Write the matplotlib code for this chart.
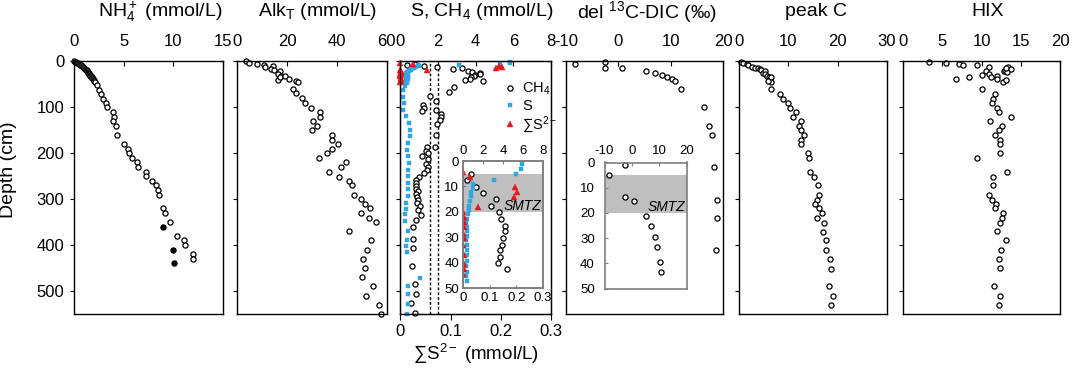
import matplotlib
matplotlib.use("Agg")
import matplotlib.pyplot as plt

plt.rcParams['font.family'] = ['Liberation Sans', 'DejaVu Sans']
plt.rcParams['mathtext.fontset'] = 'custom'
plt.rcParams['mathtext.rm'] = 'Liberation Sans'
plt.rcParams['mathtext.it'] = 'Liberation Sans:italic'
plt.rcParams['mathtext.bf'] = 'Liberation Sans:bold'

# ---------------- data ----------------
titles = ["NH$_4^+$ (mmol/L)", "Alk$_\\mathrm{T}$ (mmol/L)", "S, CH$_4$ (mmol/L)",
          "del $^{13}$C-DIC (‰)", "peak C", "HIX"]
depth_ticks = [0, 100, 200, 300, 400, 500]

nh4_open_x = [0.0, 0.1, 0.2, 0.3, 0.4, 0.5, 0.6, 0.7, 0.8, 0.9, 1.0, 1.1, 1.2, 1.3, 1.35, 1.4,
              1.45, 1.5, 1.55, 1.6, 1.65, 1.7, 1.8, 1.85, 1.9, 2.0, 2.05, 2.1,
              2.29, 2.52, 2.69, 2.93, 3.23, 3.36, 3.9, 4.07, 3.9, 4.24, 4.3, 5.05, 5.48, 5.58,
              5.82, 6.36, 6.49, 7.23, 7.3, 7.84, 8.31, 8.44, 8.58, 9.01, 9.22, 9.72, 10.43,
              11.1, 11.23, 11.97, 11.97]
nh4_open_d = [0, 1, 2, 3, 4, 6, 8, 9, 11, 12, 14, 16, 18, 19, 21, 23, 25, 26, 28, 30, 31, 33,
              35, 37, 38, 40, 42, 44,
              51, 62, 72, 81, 91, 100, 111, 121, 130, 140, 160, 180, 190, 200, 210, 220, 230,
              240, 250, 260, 270, 280, 290, 320, 330, 350, 380, 390, 400, 420, 431]
nh4_fill_x = [8.98, 9.96, 10.06]
nh4_fill_d = [361, 410, 440]

alk_x = [3.5, 4.7, 8.0, 10.8, 11.1, 14.5, 13.4, 14.9, 17.1, 16.5, 17.4, 16.5, 17.1, 19.1,
         20.9, 23.6, 24.5, 22.5, 23.6, 26.0, 27.3, 29.7, 33.2, 33.3, 30.5, 31.9, 30.0, 37.9,
         37.9, 40.3, 38.2, 36.2, 32.8, 43.8, 41.5, 36.8, 40.8, 44.7, 45.9, 47.0, 49.5, 51.4,
         53.3, 49.8, 53.0, 55.6, 45.0, 53.6, 52.0, 50.5, 51.3, 50.1, 54.6, 51.5, 57.0, 57.8]
alk_d = [0, 3, 5, 7, 12, 10, 17, 20, 22, 27, 32, 40, 35, 33, 38, 43, 46, 60, 70, 80, 90, 101,
         111, 121, 130, 140, 150, 160, 171, 180, 190, 200, 210, 220, 231, 241, 251, 260, 270,
         291, 300, 310, 320, 330, 341, 350, 370, 390, 410, 430, 450, 470, 490, 510, 530, 550]

ch4_x = [0.78, 0.34, 1.28, 1.96, 3.27, 2.8, 3.58, 3.82, 4.22, 4.22, 3.95, 3.92, 3.73, 3.7,
         3.45, 4.39, 2.85, 2.6, 1.56, 1.91, 1.22, 1.24, 1.89, 1.17, 2.14, 2.14, 2.12, 1.95,
         1.91, 1.42, 1.82, 1.35, 1.47, 1.17, 1.45, 1.35, 1.45, 1.4, 1.24, 1.0, 0.83, 0.81,
         0.81, 0.81, 0.92, 0.81, 0.88, 0.96, 0.9, 1.04, 0.92, 1.08, 0.83, 0.65, 0.65, 0.65,
         0.64, 0.78, 0.81, 0.55, 0.78]
ch4_d = [5.0, 7.5, 10.1, 12.6, 15.1, 17.5, 20.1, 22.7, 25.4, 27.6, 30.3, 32.9, 35.1, 37.6,
         40.1, 42.6, 57, 66, 76, 86, 96, 102, 106, 108, 115, 121, 127, 137, 161, 186, 187,
         195, 200, 207, 213, 223, 229, 236, 243, 252, 258, 265, 271, 278, 282, 289, 295, 302,
         309, 315, 324, 334, 346, 360, 386, 406, 445, 485, 507, 527, 547]

s_x = [5.85, 5.8, 5.29, 3.1, 0.95, 0.99, 0.82, 0.75, 0.65, 0.58, 0.58, 0.48, 0.38, 0.31,
       0.38, 0.36, 0.4, 0.31, 0.36, 0.4, 0.42, 0.42, 0.31, 0.36, 0.31, 0.36,
       0.23, 0.12, 0.16, 0.21, 0.16, 0.3, 0.44, 0.5, 0.51, 0.42, 0.34, 0.39, 0.44, 0.39,
       0.42, 0.39, 0.42, 0.39, 0.32, 0.28, 0.25, 0.25, 0.39, 0.34, 0.3, 0.34, 1.06, 0.39,
       0.42, 0.42, 0.34]
s_d = [1, 3, 5.0, 7.3, 9.0, 10.6, 12.2, 13.7, 15.6, 17.5, 19.2, 21.0, 22.6, 24.4, 26.0,
       27.6, 29.4, 31.0, 32.9, 35.1, 37.1, 39.1, 41.1, 43.5, 45.3, 47.3,
       53, 62, 77, 91, 106, 120, 134, 149, 163, 178, 192, 207, 221, 236, 250, 265, 279, 294,
       308, 322, 333, 348, 369, 388, 402, 416, 471, 489, 507, 528, 550]

sulf_x = [0.0, 0.025, 0.196, 0.202, 0.19, 0.054, 0.0, 0.001, 0.002, 0.001, 0.0, 0.002, 0.0,
          0.001, 0.002, 0.001, 0.0]
sulf_d = [4.5, 6.2, 10.1, 12.1, 14.1, 18.0, 20.0, 22.0, 23.8, 26.0, 28.4, 30.4, 33.0, 37.0,
          40.5, 42.3, 44.3]

ch4_sat = [1.58, 1.99]
smtz = [5, 20]

dic_x = [-8.3, -2.6, -2.5, 0.7, 5.3, 7.1, 8.4, 9.3, 10.3, 10.8, 11.9, 16.3, 17.4, 17.85,
         18.2, 18.8, 18.86, 18.6]
dic_d = [5, 1, 13.5, 15.3, 21.2, 25.3, 29.5, 33.4, 39.5, 43.5, 61, 100, 140, 161, 231, 301,
         341, 411]

pc_x = [0.27, 0.8, 1.5, 1.8, 2.5, 3.2, 3.9, 4.2, 4.5, 4.9, 5.3, 5.2, 5.6, 6.1, 6.2, 6.4, 6.4,
        5.9, 6.5, 8.3, 8.8, 10.0, 10.3, 11.5, 11.0, 12.6, 12.2, 12.5, 13.2, 12.6, 12.6, 14.05,
        14.2, 14.3, 15.3, 16.1, 16.2, 15.75, 15.5, 16.3, 16.9, 15.9, 17.2, 17.0, 17.6, 17.6,
        18.5, 18.7, 18.3, 19.1, 18.7]
pc_d = [1.4, 3, 6, 8, 12, 14, 15, 17, 20, 25, 21, 27, 32, 35, 39, 35, 44, 43, 61, 72, 81, 90,
        101, 111, 121, 131, 141, 150, 161, 171, 181, 200, 210, 241, 251, 270, 291, 301, 311,
        320, 330, 341, 351, 371, 390, 411, 431, 451, 490, 510, 530]

hix_x = [3.3, 5.45, 7.1, 7.6, 9.4, 11.0, 10.5, 10.0, 11.0, 11.15, 12.0, 12.0, 12.7, 13.15,
         12.8, 13.0, 13.2, 13.4, 13.75, 13.1, 6.7, 8.4, 10.1, 11.7, 11.4, 11.3, 11.9, 12.2,
         13.8, 11.1, 12.6, 12.2, 11.7, 12.4, 12.4, 12.3, 9.4, 13.2, 11.4, 11.5, 11.0, 11.3,
         11.8, 11.7, 12.7, 12.6, 12.3, 12.0, 13.15, 12.5, 12.2, 12.3, 11.6, 12.4, 12.2]
hix_d = [0.7, 3, 5, 9, 7, 12, 21, 30, 28, 35, 31, 39, 44, 41, 22, 19, 24, 13, 17, 14, 38, 35,
         61, 71, 81, 90, 101, 111, 121, 131, 141, 150, 160, 171, 181, 200, 210, 241, 251,
         270, 291, 301, 310, 320, 330, 341, 351, 370, 390, 410, 430, 450, 490, 510, 530]

# ---------------- layout ----------------
W, H = 1072, 372
fig = plt.figure(figsize=(W / 100, H / 100), dpi=100)


def box(l, t, r, b):
    return [l / W, 1 - b / H, (r - l) / W, (b - t) / H]


TOP, BOT = 61.3, 314.0
panels = [(74, 222.7), (237.3, 386.7), (400.3, 551), (566, 723), (739.3, 886.7), (903.3, 1060)]
xlims = [(0, 15), (0, 60), (0, 8), (-10, 20), (0, 30), (0, 20)]
xticks = [[0, 5, 10, 15], [0, 20, 40, 60], [0, 2, 4, 6, 8], [-10, 0, 10, 20],
          [0, 10, 20, 30], [0, 5, 10, 15, 20]]
title_x = [160, 318, 482, 647, 816, 988]
TICK_FS = 12
TITLE_FS = 14
INSET_FS = 9.5

OPEN = dict(ls='none', marker='o', ms=3.7, mfc='white', mec='black', mew=0.9, clip_on=False)
SQ = dict(ls='none', marker='s', ms=3.4, mfc='#2fa8e0', mec='#2fa8e0', mew=0.3, clip_on=False)
TRI = dict(ls='none', marker='^', ms=3.8, mfc='#e8141c', mec='#e8141c', mew=0.3, clip_on=False)


def hyphen_labels(vals):
    return [str(v).replace('\u2212', '-') for v in vals]


axes = []
for i, (l, r) in enumerate(panels):
    ax = fig.add_axes(box(l, TOP, r, BOT))
    ax.set_xlim(*xlims[i])
    ax.set_ylim(550, 0)
    ax.set_yticks(depth_ticks)
    ax.set_xticks(xticks[i])
    ax.set_xticklabels(hyphen_labels(xticks[i]))
    ax.tick_params(axis='y', direction='out', length=3, width=0.8, labelsize=TICK_FS, pad=4)
    if i > 0:
        ax.tick_params(axis='y', labelleft=False)
    for sp in ax.spines.values():
        sp.set_linewidth(1.0)
    fig.text(title_x[i] / W, 1 - 12 / H, titles[i], ha='center', va='center',
             fontsize=TITLE_FS)
    axes.append(ax)


def top_x(ax, pad=9, size=TICK_FS, color='black', length=3.5):
    ax.xaxis.set_ticks_position('top')
    ax.xaxis.set_label_position('top')
    ax.tick_params(axis='x', which='both', top=True, bottom=False, labeltop=True,
                   labelbottom=False, direction='in', length=length, width=0.8,
                   labelsize=size, pad=pad, color=color)


fig.text(8.5 / W, 1 - 170 / H, "Depth (cm)", rotation=90, ha='center', va='center',
         fontsize=TITLE_FS)

# Panel 1
axes[0].plot(nh4_open_x, nh4_open_d, **OPEN)
axes[0].plot(nh4_fill_x, nh4_fill_d, ls='none', marker='o', ms=3.7, mfc='black',
             mec='black', mew=0.9, clip_on=False)
# Panel 2
axes[1].plot(alk_x, alk_d, **OPEN)
# Panel 3
ax3 = axes[2]
for xv in ch4_sat:
    ax3.axvline(xv, color='black', ls=(0, (2, 1.5)), lw=1.0)
h1, = ax3.plot(ch4_x, ch4_d, **OPEN)
h2, = ax3.plot(s_x, s_d, **SQ)
ax3s = ax3.twiny()
ax3s.set_xlim(0, 0.3)
ax3s.set_xticks([0, 0.1, 0.2, 0.3])
ax3s.set_xticklabels(['0', '0.1', '0.2', '0.3'])
ax3s.xaxis.set_ticks_position('bottom')
ax3s.xaxis.set_label_position('bottom')
ax3s.tick_params(axis='x', which='both', bottom=True, top=False, labelbottom=True,
                 labeltop=False, direction='out', length=4, width=0.8, labelsize=TICK_FS,
                 pad=3)
h3, = ax3s.plot(sulf_x, sulf_d, **TRI)
ax3s.set_xlabel("∑S$^{2-}$ (mmol/L)", fontsize=TITLE_FS - 0.5, labelpad=2)
ax3s.legend([h1, h2, h3], ["CH$_4$", "S", "∑S$^{2-}$"], loc='upper left',
            bbox_to_anchor=((503 - 400.3) / 150.7, 1 - (81 - 61.3) / 252.7),
            frameon=False, fontsize=10.5, handlelength=1.0, handletextpad=0.3,
            labelspacing=0.1, borderpad=0, borderaxespad=0)

# Panel 4
axes[3].plot(dic_x, dic_d, **OPEN)
# Panel 5
axes[4].plot(pc_x, pc_d, **OPEN)
# Panel 6
axes[5].plot(hix_x, hix_d, **OPEN)

for ax in axes:
    top_x(ax)

GRAY = '#7f7f7f'
SHADE = '#bfbfbf'


def style_inset(ax):
    for sp in ax.spines.values():
        sp.set_color(GRAY)
        sp.set_linewidth(1.2)
    ax.set_facecolor('white')


# Inset panel 3
in3 = fig.add_axes(box(463.3, 161, 543, 288.3))
in3.set_zorder(5)
in3.set_xlim(0, 8)
in3.set_ylim(50, 0)
in3.set_xticks([0, 2, 4, 6, 8])
in3.set_yticks([0, 10, 20, 30, 40, 50])
in3.tick_params(axis='y', direction='in', length=2.5, color=GRAY, labelsize=INSET_FS, pad=3)
in3.axhspan(smtz[0], smtz[1], color=SHADE, lw=0, zorder=0)
in3.text(0.98, 17.5, "SMTZ", transform=in3.get_yaxis_transform(), ha='right', va='center',
         fontsize=10, style='italic')
in3.plot(ch4_x, ch4_d, **dict(OPEN, clip_on=True))
in3.plot(s_x, s_d, **dict(SQ, clip_on=True))
style_inset(in3)
in3s = in3.twiny()
in3s.set_xlim(0, 0.3)
in3s.set_xticks([0, 0.1, 0.2, 0.3])
in3s.set_xticklabels(['0', '0.1', '0.2', '0.3'])
in3s.xaxis.set_ticks_position('bottom')
in3s.tick_params(axis='x', which='both', bottom=True, top=False, labelbottom=True,
                 labeltop=False, direction='in', length=2.5, color=GRAY, labelsize=INSET_FS,
                 pad=3)
in3s.plot(sulf_x, sulf_d, **dict(TRI, clip_on=True))
for sp in in3s.spines.values():
    sp.set_color(GRAY)
    sp.set_linewidth(1.2)
top_x(in3, pad=3, size=INSET_FS, color=GRAY, length=2.5)

# Inset panel 4
in4 = fig.add_axes(box(604.5, 162.5, 686.5, 288.5))
in4.set_xlim(-10, 20)
in4.set_ylim(50, 0)
in4.set_xticks([-10, 0, 10, 20])
in4.set_xticklabels(hyphen_labels([-10, 0, 10, 20]))
in4.set_yticks([0, 10, 20, 30, 40, 50])
in4.tick_params(axis='y', direction='in', length=2.5, color=GRAY, labelsize=INSET_FS, pad=7)
in4.axhspan(smtz[0], smtz[1], color=SHADE, lw=0, zorder=0)
in4.text(0.98, 17.8, "SMTZ", transform=in4.get_yaxis_transform(), ha='right', va='center',
         fontsize=10, style='italic')
in4.plot(dic_x, dic_d, **dict(OPEN, clip_on=True))
style_inset(in4)
top_x(in4, pad=4, size=INSET_FS, color=GRAY, length=2.5)

fig.savefig("out.png", dpi=100)
